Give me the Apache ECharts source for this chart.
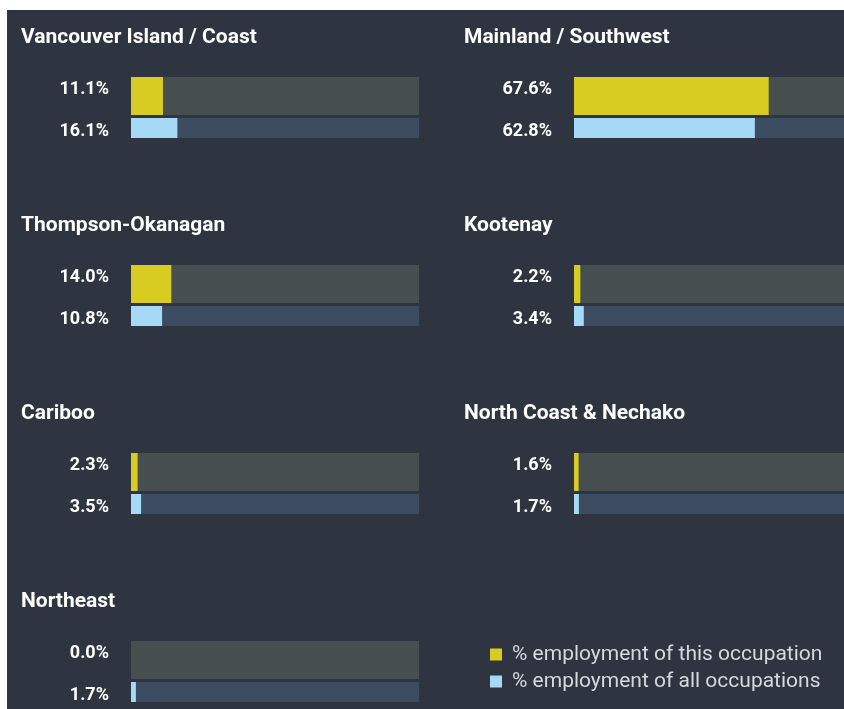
<!DOCTYPE html>
<html><head><meta charset="utf-8">
<script src="https://cdn.jsdelivr.net/npm/echarts@6/dist/echarts.min.js"></script>
<style>html,body{margin:0;padding:0;background:#fff;overflow:hidden;width:844px;height:709px}#c{width:880px;height:709px}</style>
</head><body><div id="c"></div>
<script>
const regions = ["Vancouver Island / Coast","Mainland / Southwest","Thompson-Okanagan","Kootenay","Cariboo","North Coast & Nechako","Northeast"];
const thisOcc = [11.1, 67.6, 14.0, 2.2, 2.3, 1.6, 0.0];
const allOcc = [16.1, 62.8, 10.8, 3.4, 3.5, 1.7, 1.7];
const seriesNames = ["% employment of this occupation","% employment of all occupations"];

const FONT = 'Roboto';
const BG = '#2e3440', YEL = '#d8cc22', BLU = '#a5d9f5', YTRK = '#474e4f', BTRK = '#3e4c61';
const titles = [], grids = [], xAxes = [], yAxes = [], series = [];
regions.forEach((name, i) => {
  const c = i % 2, r = Math.floor(i / 2);
  const dx = c * 443, dy = r * 188;
  titles.push({text: name, left: 21 + dx, top: 25 + dy, padding: 0,
    textStyle: {color: '#ffffff', fontFamily: FONT, fontWeight: 'bold', fontSize: 21, lineHeight: 26}});
  const specs = [
    {top: 77 + dy, h: 38, v: thisOcc[i], col: YEL, trk: YTRK, nm: seriesNames[0], va: 'bottom', lh: 14},
    {top: 118 + dy, h: 20, v: allOcc[i], col: BLU, trk: BTRK, nm: seriesNames[1], va: 'top', lh: 6}
  ];
  specs.forEach(s => {
    const gi = grids.length;
    grids.push({left: 131 + dx, top: s.top, width: 288, height: s.h, containLabel: false});
    xAxes.push({gridIndex: gi, type: 'value', min: 0, max: 100, show: false});
    yAxes.push({gridIndex: gi, type: 'category', data: [s.v.toFixed(1) + '%'],
      axisLine: {show: false}, axisTick: {show: false}, splitLine: {show: false},
      axisLabel: {margin: 22, color: '#ffffff', fontFamily: FONT, fontWeight: 'bold', fontSize: 18,
        verticalAlign: s.va, lineHeight: s.lh}});
    series.push({type: 'bar', name: s.nm, xAxisIndex: gi, yAxisIndex: gi, data: [s.v],
      barWidth: '100%', itemStyle: {color: s.col}, showBackground: true,
      backgroundStyle: {color: s.trk}, animation: false});
  });
});

const chart = echarts.init(document.getElementById('c'));
chart.setOption({
  backgroundColor: '#ffffff',
  animation: false,
  graphic: [{type: 'rect', z: -100, silent: true, shape: {x: 7, y: 10, width: 880, height: 699}, style: {fill: BG}}],
  title: titles,
  grid: grids, xAxis: xAxes, yAxis: yAxes, series: series,
  legend: {data: seriesNames, orient: 'vertical', left: 490, top: 644, padding: 0, icon: 'rect',
    itemWidth: 12, itemHeight: 12, itemGap: 6,
    textStyle: {color: '#d5d9de', fontFamily: FONT, fontSize: 21, lineHeight: 20, padding: [0, 0, 0, 5]}}
});
</script></body></html>
